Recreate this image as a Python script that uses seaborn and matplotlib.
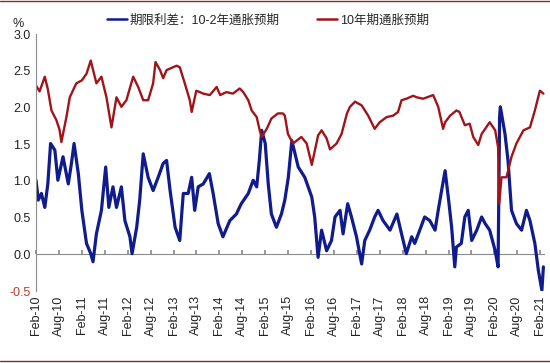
import matplotlib
matplotlib.use("Agg")
import matplotlib.pyplot as plt
import matplotlib.dates as mdates
from matplotlib.lines import Line2D
import pandas as pd
import seaborn as sns

spread_label = "期限利差：10-2年通胀预期"
be10_label = "10年期通胀预期"

# 10-2 breakeven spread (blue)
spread_dates = [
    "2010-02-01", "2010-02-19", "2010-03-16", "2010-04-12", "2010-05-06", "2010-05-28",
    "2010-07-01", "2010-07-25", "2010-09-04", "2010-10-16", "2010-11-10", "2010-12-01",
    "2011-01-04", "2011-02-01", "2011-03-10", "2011-04-13", "2011-05-01", "2011-05-28",
    "2011-07-07", "2011-08-10", "2011-09-04", "2011-10-07", "2011-11-04", "2011-12-13",
    "2012-01-10", "2012-02-19", "2012-03-07", "2012-04-13", "2012-05-07", "2012-06-04",
    "2012-07-13", "2012-08-22", "2012-10-01", "2012-11-10", "2012-12-07", "2013-01-04",
    "2013-02-13", "2013-03-22", "2013-04-19", "2013-05-28", "2013-06-25", "2013-07-19",
    "2013-08-16", "2013-09-25", "2013-11-13", "2013-12-13", "2014-01-22", "2014-03-01",
    "2014-04-25", "2014-06-16", "2014-07-25", "2014-09-19", "2014-10-28", "2014-11-25",
    "2014-12-16", "2015-01-04", "2015-02-01", "2015-02-25", "2015-03-22", "2015-05-01",
    "2015-06-10", "2015-07-07", "2015-08-04", "2015-09-01", "2015-10-22", "2015-12-13",
    "2016-02-07", "2016-03-01", "2016-03-28", "2016-04-25", "2016-06-04", "2016-07-13",
    "2016-08-10", "2016-09-19", "2016-10-13", "2016-11-19", "2016-12-19", "2017-01-28",
    "2017-03-10", "2017-04-04", "2017-05-13", "2017-06-22", "2017-07-19", "2017-08-28",
    "2017-10-22", "2017-12-16", "2018-01-22", "2018-03-01", "2018-04-13", "2018-05-07",
    "2018-06-16", "2018-07-25", "2018-09-04", "2018-10-16", "2018-11-10", "2018-12-07",
    "2019-01-04", "2019-02-01", "2019-02-25", "2019-03-22", "2019-04-04", "2019-05-13",
    "2019-06-10", "2019-07-07", "2019-08-04", "2019-09-13", "2019-10-22", "2019-11-19",
    "2019-12-25", "2020-02-07", "2020-03-01", "2020-03-13", "2020-03-19", "2020-04-25",
    "2020-05-19", "2020-06-16", "2020-07-25", "2020-09-04", "2020-10-13", "2020-11-10",
    "2020-12-19", "2021-01-16", "2021-02-13", "2021-02-25",
]
spread_values = [
    1.01, 0.74, 0.83, 0.64, 0.96, 1.51,
    1.42, 1.01, 1.33, 0.96, 1.24, 1.51,
    1.10, 0.60, 0.15, 0.01, -0.10, 0.28,
    0.60, 1.19, 0.64, 0.92, 0.64, 0.92,
    0.46, 0.24, 0.01, 0.37, 0.74, 1.37,
    1.05, 0.87, 1.05, 1.24, 1.28, 0.87,
    0.37, 0.19, 0.83, 0.83, 1.05, 0.60,
    0.92, 0.96, 1.10, 0.83, 0.42, 0.24,
    0.46, 0.55, 0.69, 0.83, 1.01, 0.92,
    1.28, 1.69, 1.51, 0.96, 0.55, 0.37,
    0.55, 0.74, 1.05, 1.55, 1.19, 1.05,
    0.78, 0.51, -0.04, 0.33, 0.05, 0.19,
    0.51, 0.60, 0.28, 0.69, 0.51, 0.24,
    -0.13, 0.19, 0.33, 0.51, 0.60, 0.46,
    0.33, 0.55, 0.28, 0.01, 0.24, 0.15,
    0.33, 0.51, 0.46, 0.33, 0.60, 0.87,
    1.14, 0.74, 0.37, -0.17, 0.10, 0.15,
    0.51, 0.60, 0.19, 0.33, 0.51, 0.42,
    0.33, 0.05, -0.17, 1.87, 2.01, 1.64,
    1.28, 0.60, 0.42, 0.33, 0.60, 0.46,
    0.15, -0.22, -0.49, -0.17,
]

# 10-year breakeven inflation (red)
be10_dates = [
    "2010-02-01", "2010-03-01", "2010-04-12", "2010-05-06", "2010-06-04", "2010-07-13",
    "2010-08-07", "2010-08-22", "2010-10-01", "2010-10-28", "2010-12-19", "2011-02-01",
    "2011-03-10", "2011-04-13", "2011-05-28", "2011-07-07", "2011-08-16", "2011-09-25",
    "2011-11-04", "2011-12-13", "2012-01-22", "2012-03-16", "2012-04-25", "2012-06-04",
    "2012-07-13", "2012-08-22", "2012-09-10", "2012-10-16", "2012-11-10", "2012-12-07",
    "2013-02-25", "2013-03-22", "2013-05-01", "2013-06-10", "2013-06-25", "2013-08-01",
    "2013-09-25", "2013-11-16", "2014-01-10", "2014-02-07", "2014-03-28", "2014-05-19",
    "2014-07-13", "2014-08-10", "2014-09-19", "2014-10-16", "2014-11-25", "2014-12-19",
    "2015-01-04", "2015-02-13", "2015-03-22", "2015-05-13", "2015-06-22", "2015-07-07",
    "2015-08-01", "2015-09-10", "2015-11-16", "2015-12-28", "2016-02-07", "2016-03-28",
    "2016-04-25", "2016-06-04", "2016-07-01", "2016-08-22", "2016-10-01", "2016-11-13",
    "2016-12-07", "2017-01-16", "2017-03-10", "2017-05-01", "2017-06-22", "2017-08-01",
    "2017-09-25", "2017-11-16", "2017-12-25", "2018-01-22", "2018-03-01", "2018-04-25",
    "2018-05-22", "2018-07-13", "2018-10-01", "2018-11-10", "2018-12-19", "2019-01-04",
    "2019-02-13", "2019-04-04", "2019-04-28", "2019-06-10", "2019-07-19", "2019-08-16",
    "2019-09-25", "2019-10-22", "2019-12-25", "2020-02-07", "2020-03-01", "2020-03-10",
    "2020-03-28", "2020-05-07", "2020-06-16", "2020-07-25", "2020-09-19", "2020-11-10",
    "2020-12-19", "2021-01-28", "2021-02-25",
]
be10_values = [
    2.30, 2.22, 2.42, 2.25, 1.96, 1.83,
    1.70, 1.53, 1.87, 2.14, 2.33, 2.37,
    2.46, 2.64, 2.33, 2.42, 2.14, 1.73,
    2.14, 2.01, 2.10, 2.42, 2.28, 2.10,
    2.10, 2.33, 2.62, 2.51, 2.40, 2.51,
    2.57, 2.55, 2.33, 2.10, 1.94, 2.23,
    2.19, 2.17, 2.28, 2.17, 2.21, 2.19,
    2.26, 2.21, 2.10, 1.96, 1.87, 1.69,
    1.60, 1.71, 1.85, 1.92, 1.92, 1.89,
    1.64, 1.51, 1.60, 1.51, 1.22, 1.62,
    1.69, 1.58, 1.43, 1.51, 1.64, 1.92,
    2.01, 2.08, 2.03, 1.89, 1.71, 1.80,
    1.87, 1.89, 1.94, 2.10, 2.12, 2.16,
    2.14, 2.12, 2.17, 2.01, 1.71, 1.80,
    1.89, 1.96, 1.94, 1.76, 1.78, 1.60,
    1.49, 1.64, 1.80, 1.69, 1.46, 0.69,
    1.05, 1.05, 1.33, 1.51, 1.69, 1.73,
    1.96, 2.23, 2.19,
]

y_ticks = [-0.5, 0.0, 0.5, 1.0, 1.5, 2.0, 2.5, 3.0]

spread_df = pd.DataFrame({"date": pd.to_datetime(spread_dates), "value": spread_values})
be10_df = pd.DataFrame({"date": pd.to_datetime(be10_dates), "value": be10_values})

sns.set_theme(style="white")
plt.rcParams["font.family"] = ["Liberation Sans", "Noto Sans CJK SC", "DejaVu Sans"]

blue = "#101B8E"
red = "#A0141A"
grey = "#8C8C8C"

fig = plt.figure(figsize=(5.5, 3.63), dpi=100)
ax = fig.add_axes([0.0655, 0.198, 0.925, 0.708])

sns.lineplot(data=spread_df, x="date", y="value", color=blue, linewidth=2.3, ax=ax,
             label=spread_label)
sns.lineplot(data=be10_df, x="date", y="value", color=red, linewidth=1.7, ax=ax,
             label=be10_label)

ax.set_xlim(pd.Timestamp("2010-02-01"), pd.Timestamp("2021-03-08"))
ax.set_ylim(-0.5, 3.0)
ax.set_yticks(y_ticks)
ax.set_yticklabels([f"{t:.1f}" for t in y_ticks])
for lbl in ax.get_yticklabels():
    lbl.set_color("#C0392B" if lbl.get_text().startswith("-") else "#222222")
ax.set_xlabel("")
ax.set_ylabel("")

locator = mdates.MonthLocator(bymonth=[2, 8], bymonthday=1)
ax.xaxis.set_major_locator(locator)
ax.xaxis.set_major_formatter(mdates.DateFormatter("%b-%y"))
ax.tick_params(axis="x", length=0, pad=3, labelsize=9, labelrotation=90, labelcolor="#222222")
ax.tick_params(axis="y", direction="in", length=3, color=grey, labelsize=9, pad=4)

for side in ["top", "right", "bottom"]:
    ax.spines[side].set_visible(False)
ax.spines["left"].set_color(grey)
ax.spines["left"].set_linewidth(0.8)

# zero line with upward tick marks
ax.axhline(0, color=grey, linewidth=0.8, zorder=1)
zero_axis = ax.secondary_xaxis(0.5 / 3.5)
zero_axis.xaxis.set_major_locator(mdates.MonthLocator(bymonth=[2, 8], bymonthday=1))
zero_axis.tick_params(axis="x", direction="in", length=3, color=grey, labelbottom=False)
zero_axis.spines["bottom"].set_visible(False)

fig.text(0.022, 0.925, "%", fontsize=9, color="#222222")

handles = [Line2D([], [], color=blue, linewidth=1.8), Line2D([], [], color=red, linewidth=1.8)]
ax.legend(handles, [spread_label, be10_label], loc="lower left", bbox_to_anchor=(0.125, 1.0),
          ncol=2, frameon=False, fontsize=9, handlelength=1.6, handletextpad=0.2,
          columnspacing=3.0, borderaxespad=0.2)

# thin frame lines at top and bottom
fig.add_artist(Line2D([0, 1], [0.996, 0.996], transform=fig.transFigure, color="#8B2A2A", linewidth=1.0))
fig.add_artist(Line2D([0, 1], [0.006, 0.006], transform=fig.transFigure, color="#8B2A2A", linewidth=1.0))

fig.savefig("out.png", dpi=100)
